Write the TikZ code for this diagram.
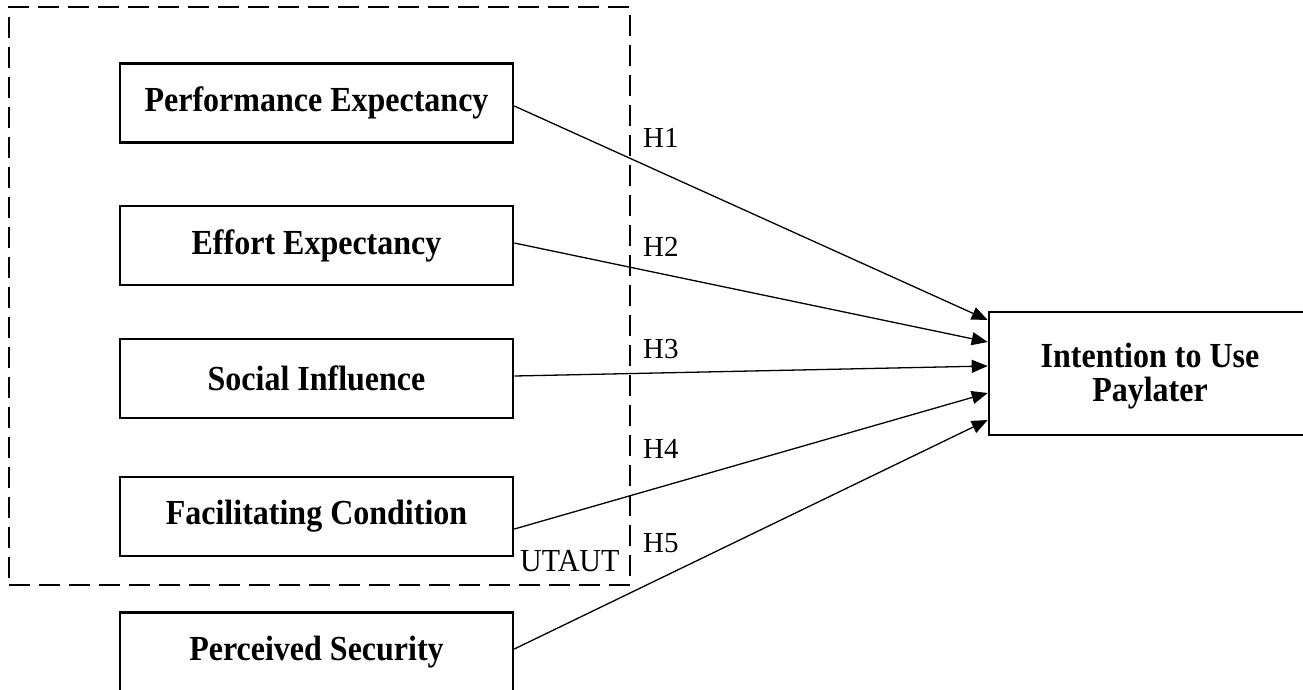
\documentclass[tikz,border=0pt]{standalone}
\usepackage{fontspec}
\usepackage{graphicx}
\setmainfont{Liberation Serif}
\usetikzlibrary{arrows.meta}
\newcommand\vstretch[2][1.1]{\scalebox{1}[#1]{#2}}
\tikzset{
  construct/.style={draw, line width=2.6pt, minimum width=393pt, minimum height=79pt,
    inner sep=0pt, font=\fontsize{32}{36}\selectfont\bfseries, align=center},
  dashframe/.style={draw, line width=2.9pt, dash pattern=on 21pt off 9pt,
    minimum width=621pt, minimum height=578pt, inner sep=0pt},
  hyp/.style={-{Triangle[length=16pt,width=13pt]}, line width=1.3pt},
  hlabel/.style={anchor=base west, inner sep=0pt, font=\fontsize{29}{34}\selectfont},
}
\begin{document}
\begin{tikzpicture}[x=1pt,y=-1pt]
\useasboundingbox (0,0) rectangle (1303,689);
\clip (0,0) rectangle (1303,689);
\fill[white] (0,0) rectangle (1303,689);
\node[dashframe] (frame) at (319.5,296) {};
\node[construct] (pe) at (316.5,103) {\vstretch{Performance Expectancy}};
\node[construct] (ee) at (316.5,245.5) {\vstretch{Effort Expectancy}};
\node[construct] (si) at (316.5,378.5) {\vstretch{Social Influence}};
\node[construct] (fc) at (316.5,516.5) {\vstretch{Facilitating Condition}};
\node[construct] (ps) at (316.5,652) {\vstretch{Perceived Security}};
\node[construct, minimum width=322pt, minimum height=123pt] (itu) at (1150,373.5) {};
\node[font=\fontsize{32}{36}\selectfont\bfseries, inner sep=0pt] (itutext) at ([yshift=-4pt]itu.center)
  {\vstretch{\fontsize{32}{30}\selectfont\begin{tabular}{@{}c@{}}Intention to Use\\Paylater\end{tabular}}};
\node[hlabel, font=\fontsize{30}{34}\selectfont] (utaut) at (520,571) {\vstretch[1.07]{UTAUT}};
\draw[hyp] ([yshift=-3pt]pe.east) -- ([yshift=53.5pt]itu.west);
\draw[hyp] ([yshift=2.5pt]ee.east) -- ([yshift=31.5pt]itu.west);
\draw[hyp] ([yshift=2.5pt]si.east) -- ([yshift=7.5pt]itu.west);
\draw[hyp] ([yshift=-12.5pt]fc.east) -- ([yshift=-19.5pt]itu.west);
\draw[hyp] ([yshift=3pt]ps.east) -- ([yshift=-46.5pt]itu.west);
\node[hlabel] (h1) at (643,147) {H1};
\node[hlabel] (h2) at (643,256) {H2};
\node[hlabel] (h3) at (643,358) {H3};
\node[hlabel] (h4) at (643,458) {H4};
\node[hlabel] (h5) at (643,552) {H5};
\end{tikzpicture}
\end{document}
